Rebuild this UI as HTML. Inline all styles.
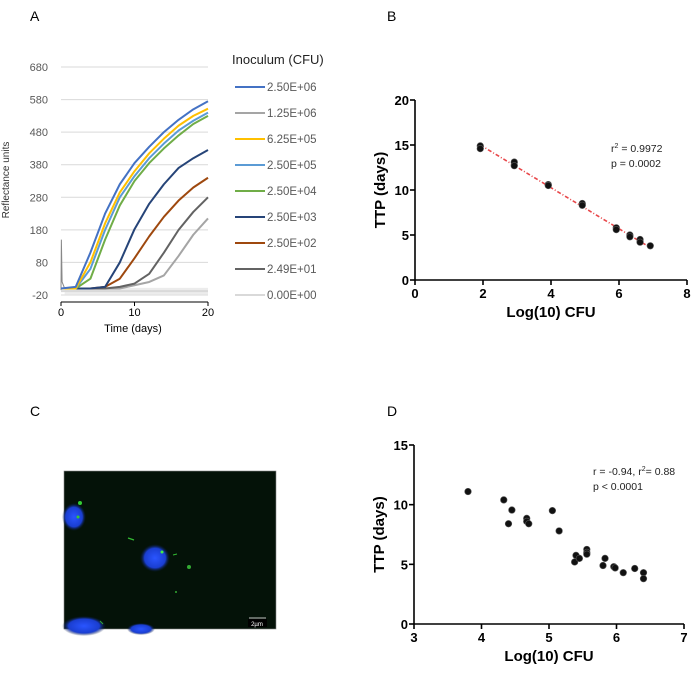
<!DOCTYPE html>
<html><head><meta charset="utf-8"><style>
html,body{margin:0;padding:0;background:#fff;}
svg{display:block;font-family:"Liberation Sans",sans-serif;}
</style></head><body>
<svg id="fig" width="694" height="678" viewBox="0 0 694 678" xmlns="http://www.w3.org/2000/svg">
<text x="30" y="21" font-size="14">A</text>
<text x="387" y="21" font-size="14">B</text>
<text x="30" y="416" font-size="14">C</text>
<text x="387" y="416" font-size="14">D</text>
<g id="pa"></g>
<g id="pb"></g>
<g id="pd"></g>
<g>
<defs>
<radialGradient id="nuc" cx="50%" cy="50%" r="50%"><stop offset="0" stop-color="#2a55ff"/><stop offset="0.7" stop-color="#1a3ed0"/><stop offset="1" stop-color="#0a1a40" stop-opacity="0"/></radialGradient>
</defs>
<rect x="64" y="471" width="212" height="158" fill="#041208" stroke="#888" stroke-width="0.6"/>
<ellipse cx="74" cy="517" rx="12" ry="14" fill="url(#nuc)"/>
<ellipse cx="155" cy="558" rx="15" ry="14" fill="url(#nuc)"/>
<ellipse cx="84" cy="626" rx="22" ry="10" fill="url(#nuc)"/>
<ellipse cx="141" cy="629" rx="14" ry="6" fill="url(#nuc)"/>
<circle cx="80" cy="503" r="2" fill="#3c3"/><circle cx="78" cy="517" r="1.5" fill="#3c3"/>
<line x1="128" y1="538" x2="134" y2="540" stroke="#3b3" stroke-width="1.2"/>
<circle cx="162" cy="552" r="1.5" fill="#4e4"/>
<line x1="173" y1="555" x2="177" y2="554" stroke="#3b3" stroke-width="1"/>
<circle cx="189" cy="567" r="2" fill="#3a3"/>
<circle cx="176" cy="592" r="1" fill="#3a3"/>
<line x1="100" y1="621" x2="103" y2="624" stroke="#3a3" stroke-width="1"/>
<rect x="248" y="619" width="19" height="8" fill="#000"/>
<line x1="249" y1="618" x2="266" y2="618" stroke="#fff" stroke-width="0.8"/>
<text x="257" y="626" font-size="6" fill="#fff" text-anchor="middle">2µm</text>
</g>
</svg>
<script>
const NS="http://www.w3.org/2000/svg";
function mk(parent,tag,attrs,text){const e=document.createElementNS(NS,tag);for(const k in attrs)e.setAttribute(k,attrs[k]);if(text!==undefined)e.textContent=text;parent.appendChild(e);return e;}

/* ---------- Panel A data ---------- */
const aTimes=[0,2,4,6,8,10,12,14,16,18,20];
const aYTicks=[-20,80,180,280,380,480,580,680];
const aXTicks=[0,10,20];
const aSeriesNames=["2.50E+06","1.25E+06","6.25E+05","2.50E+05","2.50E+04","2.50E+03","2.50E+02","2.49E+01","0.00E+00"];
const aColors=["#4472C4","#A5A5A5","#FFC000","#5B9BD5","#70AD47","#264478","#9E480E","#636363","#D9D9D9"];
const aS1=[0,5,110,230,320,385,435,480,518,550,575];
const aS2=[0,0,0,0,0,10,20,40,100,165,215];
const aS3=[0,0,80,200,295,360,415,460,500,530,552];
const aS4=[0,0,60,180,280,345,400,445,485,515,540];
const aS5=[0,0,30,150,255,330,385,430,470,505,530];
const aS6=[0,0,0,5,80,182,260,320,370,400,425];
const aS7=[0,0,0,5,30,93,160,220,270,310,340];
const aS8=[0,0,0,0,5,15,45,110,180,235,280];
const aS9=[-8,-8,-8,-8,-8,-8,-8,-8,-8,-8,-8];
const aSeries=[aS1,aS2,aS3,aS4,aS5,aS6,aS7,aS8,aS9];

(function(){
const g=document.getElementById('pa');
const ax=t=>61+t*(147/20);
const ay=v=>295-(v+20)*(228/700);
aYTicks.forEach(v=>{
  const l=mk(g,'line',{x1:61,x2:208,y1:ay(v),y2:ay(v),stroke:'#d9d9d9','stroke-width':1});
  
  
  const t=mk(g,'text',{x:48,y:ay(v)+4,'font-size':11,fill:'#595959','text-anchor':'end'},String(v));
  
  
});
const nb=mk(g,'rect',{x:ax(0.5),y:ay(2),width:ax(20)-ax(0.5),height:ay(-18)-ay(2),fill:'#ececec'});


const sp=mk(g,'polyline',{points:`${ax(0)},${ay(-5)} ${ax(0.05)},${ay(150)} ${ax(0.15)},${ay(20)} ${ax(0.5)},${ay(0)}`,fill:'none',stroke:'#888','stroke-width':1});


const order=[8,1,7,6,5,4,3,2,0];
order.forEach(i=>{
  const pts=aSeries[i].map((v,j)=>ax(aTimes[j])+','+ay(v)).join(' ');
  const p=mk(g,'polyline',{points:pts,fill:'none',stroke:aColors[i],'stroke-width':2,'stroke-linejoin':'round'});
  
  
});
const axl=mk(g,'line',{x1:61,x2:208,y1:302,y2:302,stroke:'#000','stroke-width':1});


aXTicks.forEach(t=>{
  const k=mk(g,'line',{x1:ax(t),x2:ax(t),y1:302,y2:306,stroke:'#000'});
  
  
  const tx=mk(g,'text',{x:ax(t),y:316,'font-size':11,fill:'#000','text-anchor':'middle'},String(t));
  
  
});
const xt=mk(g,'text',{x:133,y:332,'font-size':11,'text-anchor':'middle'},'Time (days)');


const yt=mk(g,'text',{x:0,y:0,'font-size':10,fill:'#333','text-anchor':'middle',transform:'translate(9,180) rotate(-90)'},'Reflectance units');


const lt=mk(g,'text',{x:232,y:64,'font-size':13,fill:'#222'},'Inoculum (CFU)');


aSeriesNames.forEach((n,i)=>{
  const y=87+i*26;
  const ln=mk(g,'line',{x1:235,x2:265,y1:y,y2:y,stroke:aColors[i],'stroke-width':2});
  
  
  const tx=mk(g,'text',{x:267,y:y+4,'font-size':11.5,fill:'#595959'},n);
  
  
});
})();

/* ---------- Panel B data ---------- */
const bLogCfu=[1.92,1.92,2.92,2.92,3.92,3.92,4.92,4.92,5.92,5.92,6.32,6.32,6.62,6.62,6.92];
const bTtp=[14.9,14.6,13.1,12.7,10.6,10.5,8.5,8.3,5.8,5.6,5.0,4.8,4.5,4.2,3.8];
const bFitX=[1.92,6.92];
const bFitY=[15.0,3.6];
const bXTicks=[0,2,4,6,8];
const bYTicks=[0,5,10,15,20];

/* ---------- Panel D data ---------- */
const dLogCfu=[3.8,4.33,4.45,4.4,4.67,4.67,4.7,5.05,5.15,5.38,5.4,5.45,5.56,5.56,5.56,5.8,5.83,5.96,5.98,6.1,6.27,6.4,6.4];
const dTtp=[11.1,10.4,9.55,8.4,8.85,8.6,8.4,9.5,7.8,5.2,5.75,5.5,6.25,6.0,5.85,4.9,5.5,4.8,4.7,4.3,4.65,4.3,3.8];
const dXTicks=[3,4,5,6,7];
const dYTicks=[0,5,10,15];

function prism(gid,pre,xs,ys,xT,yT,x0,x1,y0,y1,px0,px1,py0,py1,ann,fit){
  const g=document.getElementById(gid);
  const sx=v=>px0+(v-x0)/(x1-x0)*(px1-px0);
  const sy=v=>py0-(v-y0)/(y1-y0)*(py0-py1);
  const a1=mk(g,'line',{x1:px0,x2:px1,y1:py0,y2:py0,stroke:'#000','stroke-width':1.6});
  
  
  const a2=mk(g,'line',{x1:px0,x2:px0,y1:py0,y2:py1,stroke:'#000','stroke-width':1.6});
  
  
  xT.forEach(v=>{
    const k=mk(g,'line',{x1:sx(v),x2:sx(v),y1:py0,y2:py0+5,stroke:'#000','stroke-width':1.6});
    
    
    const t=mk(g,'text',{x:sx(v),y:py0+18,'font-size':13,'font-weight':'bold','text-anchor':'middle'},String(v));
    
    
  });
  yT.forEach(v=>{
    const k=mk(g,'line',{x1:px0-5,x2:px0,y1:sy(v),y2:sy(v),stroke:'#000','stroke-width':1.6});
    
    
    const t=mk(g,'text',{x:px0-6,y:sy(v)+5,'font-size':13,'font-weight':'bold','text-anchor':'end'},String(v));
    
    
  });
  if(fit){
    const f=mk(g,'line',{x1:sx(fit[0][0]),y1:sy(fit[1][0]),x2:sx(fit[0][1]),y2:sy(fit[1][1]),stroke:'#e8474a','stroke-width':1.6,'stroke-dasharray':'4,2,1,2'});
    
    
  }
  xs.forEach((v,i)=>{
    const c=mk(g,'circle',{cx:sx(v),cy:sy(ys[i]),r:3.3,fill:'#111',stroke:'#555','stroke-width':0.6});
    
    
  });
  const xt=mk(g,'text',{x:(px0+px1)/2,y:py0+37,'font-size':15,'font-weight':'bold','text-anchor':'middle'},'Log(10) CFU');
  
  
  const yt=mk(g,'text',{x:0,y:0,'font-size':15,'font-weight':'bold','text-anchor':'middle',transform:`translate(${px0-30},${(py0+py1)/2}) rotate(-90)`},'TTP (days)');
  
  
  ann.forEach((a,i)=>{
    const t=mk(g,'text',{x:a[0],y:a[1],'font-size':10.5,fill:'#222'});
    t.innerHTML=a[2];
    
    
  });
}
prism('pb','b',bLogCfu,bTtp,bXTicks,bYTicks,0,8,0,20,415,687,280,100,
  [[611,152,'r<tspan dy="-4" font-size="7">2</tspan><tspan dy="4"> = 0.9972</tspan>'],[611,167,'p = 0.0002']],[bFitX,bFitY]);
prism('pd','d',dLogCfu,dTtp,dXTicks,dYTicks,3,7,0,15,414,684,624,445,
  [[593,475,'r = -0.94, r<tspan dy="-4" font-size="7">2</tspan><tspan dy="4">= 0.88</tspan>'],[593,490,'p &lt;  0.0001']],null);
</script>
</body></html>
